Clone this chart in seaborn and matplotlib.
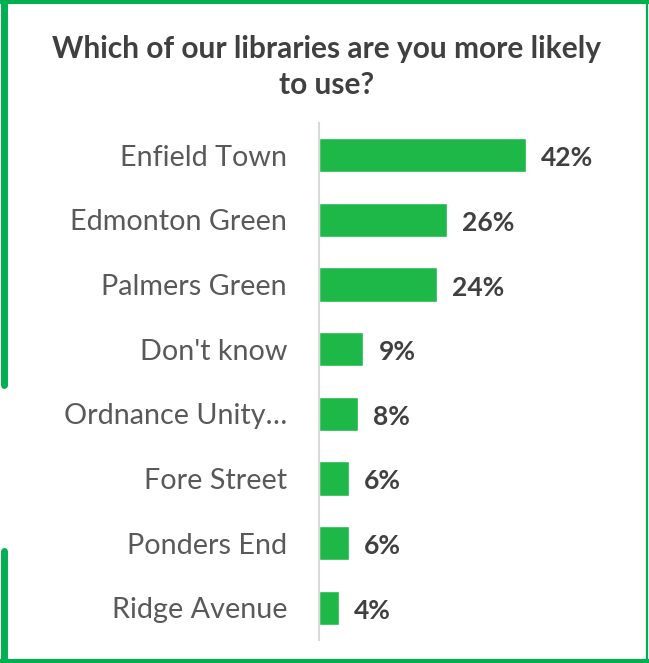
import matplotlib
matplotlib.use("Agg")
import matplotlib.pyplot as plt
import seaborn as sns
import pandas as pd
from matplotlib.lines import Line2D

categories = ["Enfield Town", "Edmonton Green", "Palmers Green", "Don't know",
              "Ordnance Unity…", "Fore Street", "Ponders End", "Ridge Avenue"]
values = [42, 26, 24, 9, 8, 6, 6, 4]
value_labels = ["42%", "26%", "24%", "9%", "8%", "6%", "6%", "4%"]
title = "Which of our libraries are you more likely\nto use?"

sns.set_theme(style="white")
plt.rcParams['font.family'] = ['Lato', 'DejaVu Sans']

W, H = 649, 663
fig = plt.figure(figsize=(W / 100, H / 100), dpi=100)
fig.patch.set_facecolor("white")

ax = fig.add_axes([319 / W, 23 / H, 296 / W, (640 - 123) / H])
df = pd.DataFrame({"cat": categories, "val": values})
sns.barplot(data=df, y="cat", x="val", orient="h", color="#1DB848",
            saturation=1, width=0.53, ax=ax)
ax.set_xlim(0, 60)
ax.set_ylim(len(categories) - 0.5, -0.5)
ax.set_xlabel("")
ax.set_ylabel("")
ax.set_xticks([])
for s in ["top", "right", "bottom"]:
    ax.spines[s].set_visible(False)
ax.spines["left"].set_color("#D9D9D9")
ax.spines["left"].set_linewidth(1.5)
ax.tick_params(axis="y", length=0, pad=23, labelsize=20.7, labelcolor="#595959")

for i, (v, lab) in enumerate(zip(values, value_labels)):
    ax.annotate(lab, (v, i), xytext=(15, -1), textcoords="offset pixels",
                va="center_baseline", ha="left", fontsize=19, fontweight="bold",
                color="#404040")

fig.text(327 / W, 1 - 67 / H, title, ha="center", va="center",
         fontsize=21.5, fontweight="bold", color="#404040", linespacing=1.33)

green = "#00B050"
def fl(x0, y0, x1, y1, lw, cap="butt"):
    fig.add_artist(Line2D([x0 / W, x1 / W], [1 - y0 / H, 1 - y1 / H],
                          transform=fig.transFigure, color=green, lw=lw,
                          solid_capstyle=cap))

fl(0, 2, W, 2, 3.0)
fl(646.5, 0, 646.5, H, 1.6)
fl(0, 660.5, W, 660.5, 3.0)
fl(3.5, 0, 3.5, 385, 5.0, "round")
fl(3.5, 551, 3.5, H, 5.0, "round")

fig.savefig("out.png", dpi=100, facecolor="white")
